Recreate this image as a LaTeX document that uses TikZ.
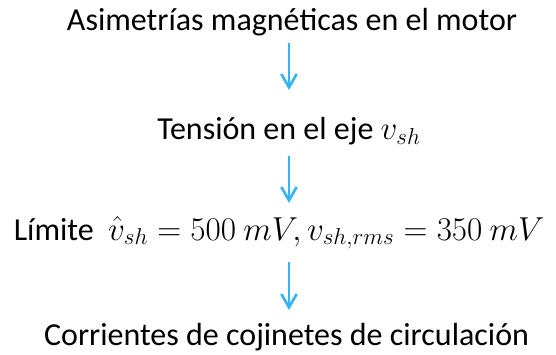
\documentclass[tikz,border=0pt]{standalone}
\usepackage{fontspec}
\setmainfont{Carlito}
\usetikzlibrary{arrows.meta}
\definecolor{flowblue}{RGB}{51,181,245}

\begin{document}
\begin{tikzpicture}[
    x=1pt, y=1pt,
    every node/.style={font=\fontsize{24}{28}\selectfont, inner sep=0pt, anchor=base},
    arrow/.style={-{Straight Barb[length=10pt,width=11.5pt]}, line width=2pt, flowblue}
]
\useasboundingbox (0,0) rectangle (417,265.5);

% Nodes
\node (asimetrias) at (219,242.25) {Asimetrías magnéticas en el motor};
\node (tension) at (216.75,161) {Tensión en el eje $v_{sh}$};
\node (limite) at (209.25,85.5) {Límite \ $\hat{v}_{sh}=500\ mV, v_{sh,rms}=350\ mV$};
\node (corrientes) at (214.9,6.75) {Corrientes de cojinetes de circulación};

% Arrow ends
\coordinate (a1) at (216.75,233.25);
\coordinate (b1) at (216.75,198);
\coordinate (a2) at (216.75,148.5);
\coordinate (b2) at (216.75,113.25);
\coordinate (a3) at (216.75,69);
\coordinate (b3) at (216.75,33);

% Arrows
\draw[arrow] (a1) -- (b1);
\draw[arrow] (a2) -- (b2);
\draw[arrow] (a3) -- (b3);

\end{tikzpicture}
\end{document}
